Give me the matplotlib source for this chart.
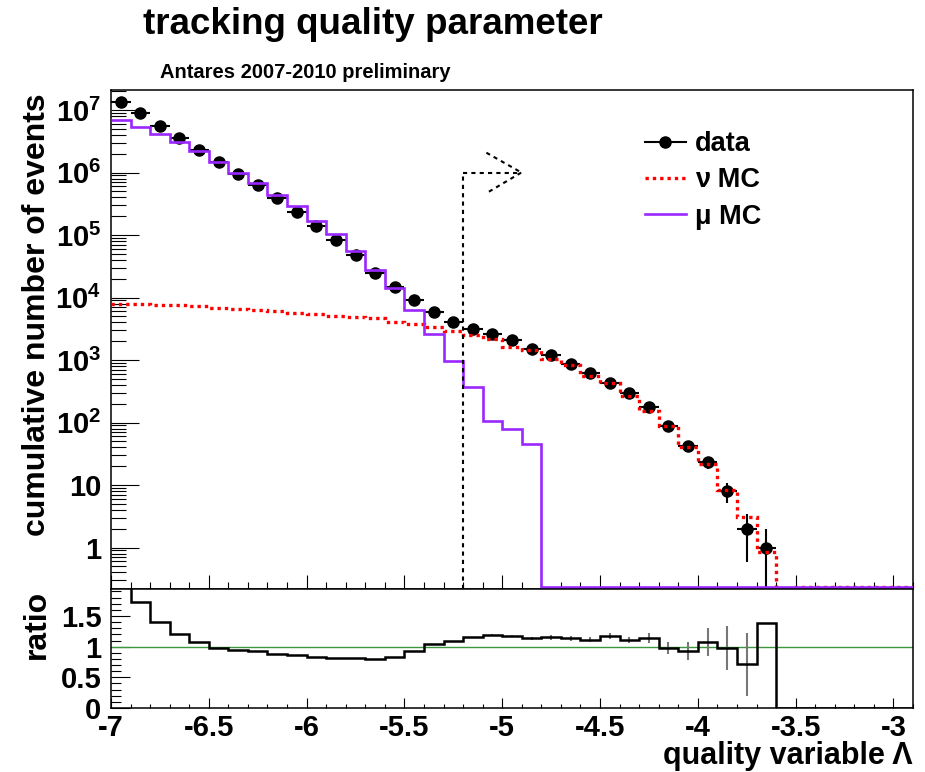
import numpy as np
import matplotlib
matplotlib.use('Agg')
import matplotlib.pyplot as plt
from matplotlib.lines import Line2D
from matplotlib.ticker import FixedLocator, FixedFormatter, MultipleLocator, LogLocator, NullFormatter

plt.rcParams['font.family'] = ['Liberation Sans', 'DejaVu Sans']
plt.rcParams['font.weight'] = 'bold'
plt.rcParams['mathtext.fontset'] = 'custom'
plt.rcParams['mathtext.rm'] = 'Liberation Sans:bold'
plt.rcParams['mathtext.bf'] = 'Liberation Sans:bold'
plt.rcParams['mathtext.default'] = 'bf'
plt.rcParams['axes.unicode_minus'] = False

# ---------------- data ----------------
x_low, x_high, bin_width = -7.0, -2.9, 0.1
n_bins = 41

data_counts = [1.32e7, 8.9e6, 5.6e6, 3.6e6, 2.3e6, 1.45e6, 9.4e5, 6.3e5, 3.9e5, 2.34e5,
               1.41e5, 8.3e4, 4.8e4, 2.5e4, 1.49e4, 9.1e3, 5.9e3, 4.1e3, 3.1e3, 2.6e3,
               2.1e3, 1.5e3, 1.2e3, 850, 613, 435, 293, 179, 88, 42,
               23, 8, 2, 1]

nu_mc = [7780, 7750, 7700, 7500, 7230, 6880, 6620, 6240, 6100, 5590,
         5450, 5110, 4950, 4650, 4000, 3720, 3400, 2940, 2550, 2140,
         1620, 1450, 1020, 830, 550, 425, 265, 155, 88, 41,
         21.7, 8.3, 3.1, 0.86, 0.225, 0, 0, 0, 0, 0, 0]

mu_mc = [6.9e6, 5.4e6, 4.1e6, 3.1e6, 2.2e6, 1.48e6, 1.0e6, 6.7e5, 4.4e5, 2.9e5,
         1.7e5, 1.02e5, 5.6e4, 2.8e4, 1.44e4, 6.3e3, 2.6e3, 975, 365, 107,
         80, 45, 0, 0, 0, 0, 0, 0, 0, 0,
         0, 0, 0, 0, 0, 0, 0, 0, 0, 0, 0]

ratio = [2.0, 1.735, 1.41, 1.207, 1.07, 0.984, 0.946, 0.924, 0.886, 0.86,
         0.837, 0.82, 0.81, 0.794, 0.837, 0.93, 1.04, 1.093, 1.155, 1.19,
         1.175, 1.136, 1.153, 1.136, 1.11, 1.175, 1.11, 1.136, 0.973, 0.93,
         1.07, 0.984, 0.712, 1.392, 0, 0, 0, 0, 0, 0, 0]

ratio_err = [0, 0, 0, 0, 0, 0, 0, 0, 0, 0,
             0, 0, 0, 0, 0, 0, 0, 0, 0, 0.02,
             0.02, 0.02, 0.04, 0.04, 0.04, 0.05, 0.05, 0.08, 0.10, 0.14,
             0.23, 0.36, 0.51, 0, 0, 0, 0, 0, 0, 0, 0]

cut_value = -5.2
cut_level = 1e6

y_major = [1, 10, 1e2, 1e3, 1e4, 1e5, 1e6, 1e7]
y_major_labels = ['1', '10', r'$10^{2}$', r'$10^{3}$', r'$10^{4}$', r'$10^{5}$', r'$10^{6}$', r'$10^{7}$']
x_major = [-7, -6.5, -6, -5.5, -5, -4.5, -4, -3.5, -3]
x_major_labels = ['-7', '-6.5', '-6', '-5.5', '-5', '-4.5', '-4', '-3.5', '-3']
r_major = [0, 0.5, 1, 1.5]
r_major_labels = ['0', '0.5', '1', '1.5']

# ---------------- derived ----------------
edges = np.linspace(x_low, x_high, n_bins + 1)
centers = edges[:-1] + bin_width / 2
data = np.array(data_counts, dtype=float)
nu = np.array(nu_mc, dtype=float)
mu = np.array(mu_mc, dtype=float)
rat = np.array(ratio, dtype=float)
rerr = np.array(ratio_err, dtype=float)

ymin, ymax = 0.217, 2.09e7
floor = ymin * 10 ** (2.0 / 62.5)

purple = '#9b27ff'
W, H = 925, 772

fig = plt.figure(figsize=(W / 100, H / 100), dpi=100)
ax = fig.add_axes([111 / W, 1 - 589 / H, (913 - 111) / W, (589 - 90) / H])
axr = fig.add_axes([111 / W, 1 - 708 / H, (913 - 111) / W, (708 - 589) / H])

for a in (ax, axr):
    for s in a.spines.values():
        s.set_linewidth(1.1)
    a.set_xlim(x_low, x_high)

# main panel
nd = len(data)
ax.errorbar(centers[:nd], data, yerr=np.sqrt(data), xerr=bin_width / 2, fmt='o',
            color='k', ms=8, elinewidth=1.5, capsize=0, zorder=3)
ax.stairs(np.where(nu > 0, nu, floor), edges, baseline=None, color='red', lw=2.4,
          ls=(0, (1, 1.2)), zorder=4)
ax.stairs(np.where(mu > 0, mu, floor), edges, baseline=None, color=purple, lw=1.9, zorder=5)

# cut line with arrow
dot = (0, (2, 2))
ax.plot([cut_value, cut_value], [ymin, cut_level], color='k', lw=1.5, ls=dot, zorder=6)
ax.plot([cut_value, -4.902], [cut_level, cut_level], color='k', lw=1.5, ls=dot, zorder=6)
ax.plot([-5.081, -4.902], [10 ** 6.317, cut_level], color='k', lw=1.5, ls=dot, zorder=6)
ax.plot([-5.068, -4.902], [10 ** 5.693, cut_level], color='k', lw=1.5, ls=dot, zorder=6)

ax.set_yscale('log')
ax.set_ylim(ymin, ymax)
ax.yaxis.set_major_locator(FixedLocator(y_major))
ax.yaxis.set_major_formatter(FixedFormatter(y_major_labels))
ax.yaxis.set_minor_locator(LogLocator(base=10, subs=(2, 3, 4, 5, 6, 7, 8, 9), numticks=20))
ax.yaxis.set_minor_formatter(NullFormatter())
ax.xaxis.set_major_locator(MultipleLocator(0.5))
ax.xaxis.set_minor_locator(MultipleLocator(0.1))
ax.tick_params(axis='x', which='major', direction='in', length=10, width=0.8,
               top=False, labelbottom=False)
ax.tick_params(axis='x', which='minor', direction='in', length=5, width=0.8, top=False)
ax.tick_params(axis='y', which='major', direction='in', length=20, width=0.8,
               right=False, labelsize=21, pad=7)
ax.tick_params(axis='y', which='minor', direction='in', length=11, width=0.8, right=False)

handles = [Line2D([], [], color='k', marker='o', ms=8, lw=1.5),
           Line2D([], [], color='red', lw=2.4, ls=(0, (1, 1.2))),
           Line2D([], [], color=purple, lw=1.9)]
ax.legend(handles, ['data', 'ν MC', 'μ MC'], loc='upper left',
          bbox_to_anchor=(645 / W, 1 - 131 / H), bbox_transform=fig.transFigure,
          frameon=False, fontsize=19.5, handlelength=1.5, handletextpad=0.35,
          labelspacing=0.38, borderpad=0, borderaxespad=0, numpoints=1)

# ratio panel
axr.stairs(rat, edges, baseline=None, color='k', lw=1.8, zorder=4)
mask = rerr > 0
axr.errorbar(centers[mask], rat[mask], yerr=rerr[mask], fmt='none', ecolor='#777777',
             elinewidth=1.5, capsize=0, zorder=3)
axr.axhline(1.0, color='#3c963c', lw=1.0, zorder=2)
axr.set_ylim(0, 1.94)
axr.yaxis.set_major_locator(FixedLocator(r_major))
axr.yaxis.set_major_formatter(FixedFormatter(r_major_labels))
axr.yaxis.set_minor_locator(MultipleLocator(0.1))
axr.xaxis.set_major_locator(FixedLocator(x_major))
axr.xaxis.set_major_formatter(FixedFormatter(x_major_labels))
axr.xaxis.set_minor_locator(MultipleLocator(0.1))
axr.tick_params(axis='x', which='major', direction='in', length=7, width=0.8,
                top=False, labelsize=21, pad=4)
axr.tick_params(axis='x', which='minor', direction='in', length=3, width=0.8, top=False)
axr.tick_params(axis='y', which='major', direction='in', length=14, width=0.8,
                right=False, labelsize=21, pad=7)
axr.tick_params(axis='y', which='minor', direction='in', length=7, width=0.8, right=False)

# texts
fig.text(143 / W, 1 - 25 / H, 'tracking quality parameter', fontsize=26.5,
         ha='left', va='center')
fig.text(160 / W, 1 - 73 / H, 'Antares 2007-2010 preliminary', fontsize=14.5,
         ha='left', va='center')
fig.text(37 / W, 1 - 93 / H, 'cumulative number of events', rotation=90,
         ha='center', va='top', fontsize=23)
fig.text(37 / W, 1 - 590 / H, 'ratio', rotation=90, ha='center', va='top', fontsize=23)
fig.text(913 / W, 1 - 764 / H, 'quality variable Λ', ha='right', va='baseline', fontsize=22)

fig.savefig('out.png', dpi=100)
